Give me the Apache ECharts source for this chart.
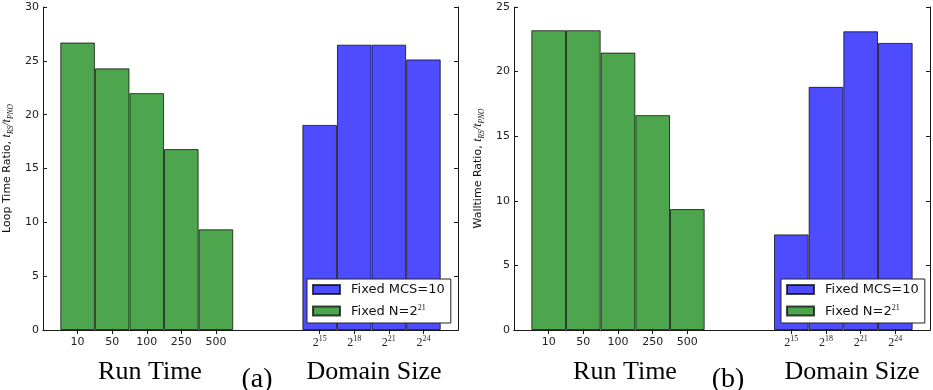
<!DOCTYPE html>
<html>
<head>
<meta charset="utf-8">
<script src="https://cdn.jsdelivr.net/npm/echarts@6/dist/echarts.min.js"></script>
<style>
  html, body { margin: 0; padding: 0; background: #fff; }
  #chart { width: 933px; height: 390px; }
</style>
</head>
<body>
<div id="chart"></div>
<script>
// Categories on each panel's x axis
const runTimes = ['10', '50', '100', '250', '500'];
const domainSizes = ['2^15', '2^18', '2^21', '2^24'];

// (a) loop time ratio t_RS / t_PNO
const loopFixedN = [26.7, 24.3, 22.0, 16.8, 9.35];      // vs run time, N = 2^21
const loopFixedMCS = [19.05, 26.5, 26.5, 25.13];         // vs domain size, MCS = 10

// (b) walltime ratio t_RS / t_PNO
const wallFixedN = [23.2, 23.2, 21.47, 16.63, 9.36];
const wallFixedMCS = [7.4, 18.82, 23.12, 22.22];

// y axis ticks
const loopTicks = { min: 0, max: 30, interval: 5 };
const wallTicks = { min: 0, max: 25, interval: 5 };

const seriesNames = ['Fixed MCS=10', 'Fixed N=2^21'];
const BLUE = '#4d4dff';
const GREEN = '#4da64d';
const EDGE = 'rgba(0,0,0,0.72)';
const AXIS = '#1a1a1a';

// One blank slot at each end and two blank slots between the groups
const categories = [''].concat(runTimes, ['', ''], domainSizes, ['']);
const runStart = 1;
const domStart = 1 + runTimes.length + 2;

function placeAt(values, start) {
  const arr = categories.map(() => '-');
  values.forEach((v, i) => { arr[start + i] = v; });
  return arr;
}

// "2^15" -> base with a raised exponent
function supText(s, baseStyle) {
  const m = /^(.*?)\^(\d+)$/.exec(s);
  if (!m) return '{' + baseStyle + '|' + s + '}';
  return '{' + baseStyle + 'b|' + m[1] + '}{sup|' + m[2] + '}';
}

const tickLabelRich = {
  n: { fontFamily: 'DejaVu Sans', fontSize: 11, color: '#222', lineHeight: 14 },
  nb: { fontFamily: 'Liberation Serif', fontSize: 12, color: '#222', lineHeight: 14, verticalAlign: 'bottom' },
  sup: { fontFamily: 'Liberation Serif', fontSize: 8, color: '#222', lineHeight: 9, verticalAlign: 'top' }
};

function xAxes(gridIndex) {
  const tickFilter = (idx, val) => val !== '';
  const common = {
    type: 'category',
    gridIndex: gridIndex,
    data: categories,
    boundaryGap: false,
    axisLine: { lineStyle: { color: AXIS, width: 1 } },
    axisTick: { inside: true, length: 4, interval: tickFilter, lineStyle: { color: AXIS } },
    splitLine: { show: false }
  };
  return [
    Object.assign({}, common, {
      position: 'bottom',
      axisLabel: {
        interval: 0, margin: 5,
        formatter: v => (v === '' ? '' : supText(v, 'n')),
        rich: tickLabelRich
      }
    }),
    Object.assign({}, common, { position: 'top', axisLabel: { show: false } })
  ];
}

const nameRich = {
  n: { fontFamily: 'DejaVu Sans', fontSize: 11, color: '#111', lineHeight: 16 },
  t: { fontFamily: 'Liberation Serif', fontStyle: 'italic', fontSize: 12, color: '#111', lineHeight: 16 },
  s: { fontFamily: 'Liberation Serif', fontStyle: 'italic', fontSize: 7.5, color: '#111', lineHeight: 8, verticalAlign: 'bottom' }
};

function yAxes(gridIndex, ticks, label) {
  const common = {
    type: 'value',
    gridIndex: gridIndex,
    min: ticks.min, max: ticks.max, interval: ticks.interval,
    axisLine: { show: true, lineStyle: { color: AXIS, width: 1 } },
    axisTick: { show: true, inside: true, length: 4, lineStyle: { color: AXIS } },
    splitLine: { show: false }
  };
  return [
    Object.assign({}, common, {
      position: 'left',
      name: '{n|' + label + ', }{t|t}{s|RS}{t|/t}{s|PNO}',
      nameLocation: 'middle',
      nameRotate: 90,
      nameGap: 28,
      nameTextStyle: { rich: nameRich },
      axisLabel: { fontFamily: 'DejaVu Sans', fontSize: 11, color: '#222', margin: 4 }
    }),
    Object.assign({}, common, { position: 'right', axisLabel: { show: false } })
  ];
}

function barSeries(gridIndex, fixedN, fixedMCS) {
  const base = {
    type: 'bar',
    xAxisIndex: gridIndex * 2,
    yAxisIndex: gridIndex * 2,
    barWidth: '100%',
    barGap: '-100%',
    animation: false
  };
  return [
    Object.assign({}, base, {
      name: seriesNames[0],
      data: placeAt(fixedMCS, domStart),
      itemStyle: { color: BLUE, borderColor: EDGE, borderWidth: 1 }
    }),
    Object.assign({}, base, {
      name: seriesNames[1],
      data: placeAt(fixedN, runStart),
      itemStyle: { color: GREEN, borderColor: EDGE, borderWidth: 1 }
    })
  ];
}

function legendAt(left) {
  return {
    data: seriesNames,
    orient: 'vertical',
    left: left, top: 279,
    padding: [4, 6, 5, 5],
    itemWidth: 27, itemHeight: 9, itemGap: 8,
    icon: 'rect',
    backgroundColor: '#fff',
    borderColor: '#222', borderWidth: 1,
    selectedMode: false,
    formatter: name => supText(name, 'l'),
    textStyle: {
      padding: [0, 0, 0, 6],
      rich: {
        l: { fontFamily: 'DejaVu Sans', fontSize: 13, color: '#111', lineHeight: 14 },
        lb: { fontFamily: 'DejaVu Sans', fontSize: 13, color: '#111', lineHeight: 14, verticalAlign: 'bottom' },
        sup: { fontFamily: 'Liberation Serif', fontSize: 8, color: '#111', lineHeight: 8, verticalAlign: 'top' }
      }
    }
  };
}

function caption(text, cx, cy, size) {
  return {
    type: 'text', x: cx, y: cy, silent: true,
    style: { text: text, fill: '#000', font: size + 'px "Liberation Serif"', align: 'center', verticalAlign: 'middle' }
  };
}

const chart = echarts.init(document.getElementById('chart'), null, { renderer: 'canvas' });
chart.setOption({
  animation: false,
  backgroundColor: '#fff',
  grid: [
    { left: 41, top: 7, width: 417, height: 323 },
    { left: 514, top: 7, width: 417, height: 323 }
  ],
  xAxis: xAxes(0).concat(xAxes(1)),
  yAxis: yAxes(0, loopTicks, 'Loop Time Ratio').concat(yAxes(1, wallTicks, 'Walltime Ratio')),
  legend: [legendAt(307), legendAt(781)],
  series: barSeries(0, loopFixedN, loopFixedMCS).concat(barSeries(1, wallFixedN, wallFixedMCS)),
  graphic: [
    caption('Run Time', 150, 372, 26),
    caption('(a)', 257, 380, 28),
    caption('Domain Size', 374, 372, 26),
    caption('Run Time', 625, 372, 26),
    caption('(b)', 728, 380, 28),
    caption('Domain Size', 852, 372, 26)
  ]
});
</script>
</body>
</html>
